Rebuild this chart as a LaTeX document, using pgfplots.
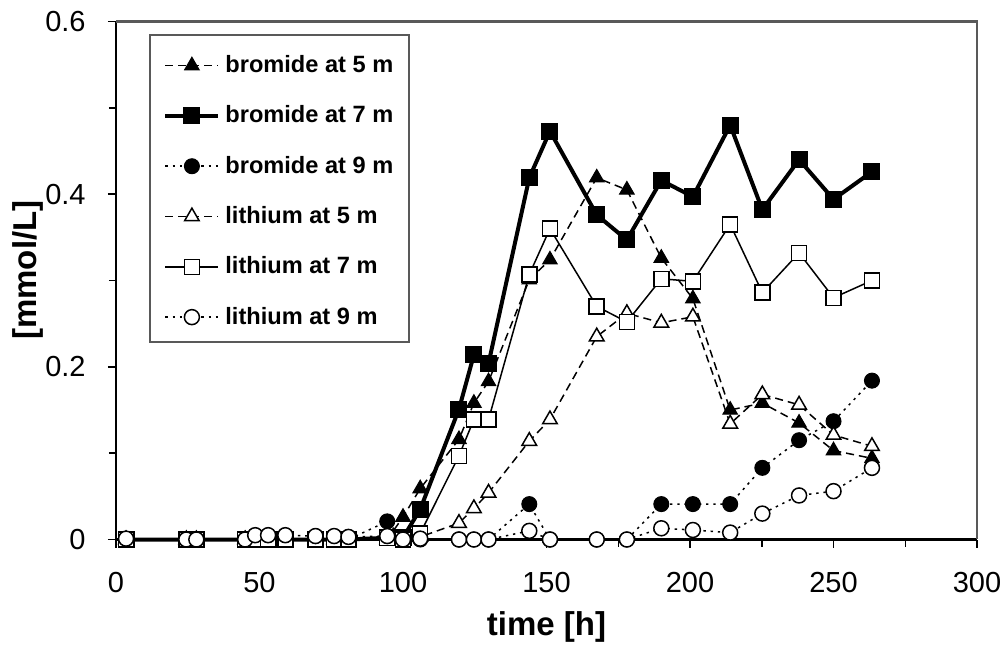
\documentclass[border=0pt]{standalone}
\usepackage{fontspec}
\setmainfont{Liberation Sans}
\usepackage{pgfplots}
\pgfplotsset{compat=1.18}
\usetikzlibrary{calc}
\definecolor{frame}{gray}{0.35}
\pgfplotstableread{
t     br5    br7    br9    li5    li7    li9
3.5   0      0      0      0      0      0.001
24.5  0      0      0      0      0      0
28    0      0      0      0      0      0
45    0      0      0      0      0      0
48.5  0      0      0      0      0      0.005
53    0      0      0      0      0      0.005
59    0      0      0      0      0      0.005
69.5  0      0      0      0      0      0.004
76    0      0      0      0      0      0.004
81    0      0      0      0      0      0.003
94.5  0      0.002  0.021  0      0.002  0.004
100   0.026  0.002  0      0      0      0
106   0.059  0.035  0      0.003  0.007  0.001
119.5 0.116  0.151  0      0.019  0.097  0
124.7 0.158  0.214  0      0.036  0.139  0
129.8 0.183  0.204  0      0.054  0.139  0
144   0.301  0.419  0.041  0.114  0.307  0.010
151.2 0.324  0.473  0      0.139  0.360  0
167.5 0.419  0.376  0      0.235  0.270  0
178   0.405  0.347  0      0.262  0.252  0
190   0.326  0.416  0.041  0.251  0.302  0.013
201   0.279  0.397  0.041  0.258  0.299  0.011
214   0.150  0.480  0.041  0.134  0.365  0.008
225.2 0.158  0.382  0.083  0.168  0.286  0.030
238   0.135  0.440  0.115  0.156  0.332  0.051
250   0.103  0.394  0.137  0.121  0.280  0.056
263.4 0.094  0.426  0.184  0.108  0.300  0.083
}\datatable
\begin{document}
\begin{tikzpicture}
\begin{axis}[
  name=ax,
  scale only axis, width=430.5pt, height=259pt,
  xmin=0, xmax=300, ymin=0, ymax=0.6,
  clip=false,
  axis lines=left,
  axis line style={-, line width=1.25pt, black},
  xtick={0,50,...,300},
  ytick={0,0.2,0.4,0.6},
  yticklabels={0,0.2,0.4,0.6},
  minor x tick num=1, minor y tick num=1,
  tick align=outside,
  major tick length=4pt, minor tick length=3.5pt,
  every tick/.style={line width=0.75pt, black},
  /pgf/number format/assume math mode=true,
  tick label style={font=\fontsize{14.5}{17}\selectfont},
  xticklabel style={inner sep=0pt, anchor=north, yshift=-12pt},
  yticklabel style={inner sep=0pt, anchor=east, xshift=-11pt},
  xlabel={time [h]},
  ylabel={[mmol/L]},
  xlabel style={font=\bfseries\fontsize{16.5}{20}\selectfont, at={(axis description cs:0.5,-0.185)}, anchor=base},
  ylabel style={font=\bfseries\fontsize{16.5}{20}\selectfont, at={(axis description cs:-0.1025,0.520)}, anchor=center},
  legend image code/.code={\draw[mark repeat=2,mark phase=2] plot coordinates {(0pt,0pt) (13.25pt,0pt) (26.5pt,0pt)};},
  legend cell align=left,
  legend style={at={(axis description cs:0.0546,0.935)}, anchor=north west,
    draw=none, fill=none, inner xsep=0pt, inner ysep=0pt,
    row sep=15.1pt, column sep=1.5pt,
    font=\bfseries\fontsize{11.8}{13}\selectfont,
    nodes={inner xsep=1pt, inner ysep=0pt}},
]
\addplot[black, line width=0.75pt, dash pattern=on 4pt off 2.5pt, mark=triangle*, mark size=4.2pt,
  mark options={solid, fill=black, line width=0.5pt}] table[x=t, y=br5] {\datatable};
\addlegendentry{bromide at 5 m}
\addplot[black, line width=2pt, mark=square*, mark size=4pt,
  mark options={solid, fill=black, line width=0.5pt}] table[x=t, y=br7] {\datatable};
\addlegendentry{bromide at 7 m}
\addplot[black, line width=0.75pt, dash pattern=on 1.2pt off 2.4pt, mark=*, mark size=3.75pt,
  mark options={solid, fill=black, line width=0.5pt}] table[x=t, y=br9] {\datatable};
\addlegendentry{bromide at 9 m}
\addplot[black, line width=0.75pt, dash pattern=on 4pt off 2.5pt, mark=triangle*, mark size=4.2pt,
  mark options={solid, fill=white, line width=0.75pt}] table[x=t, y=li5] {\datatable};
\addlegendentry{lithium at 5 m}
\addplot[black, line width=0.75pt, mark=square*, mark size=3.75pt,
  mark options={solid, fill=white, line width=0.75pt}] table[x=t, y=li7] {\datatable};
\addlegendentry{lithium at 7 m}
\addplot[black, line width=0.75pt, dash pattern=on 1.2pt off 2.4pt, mark=*, mark size=3.75pt,
  mark options={solid, fill=white, line width=0.75pt}] table[x=t, y=li9] {\datatable};
\addlegendentry{lithium at 9 m}
\draw[frame, line width=0.75pt] (axis description cs:0.0395,0.974) rectangle (axis description cs:0.3403,0.3813);
\end{axis}
\draw[frame, line width=1pt] (ax.north west) -- (ax.north east) -- (ax.south east);
\pgfresetboundingbox
\path[use as bounding box] ($(ax.south west)+(-58pt,-53.25pt)$) rectangle ($(ax.south west)+(444pt,269.75pt)$);
\end{tikzpicture}
\end{document}
